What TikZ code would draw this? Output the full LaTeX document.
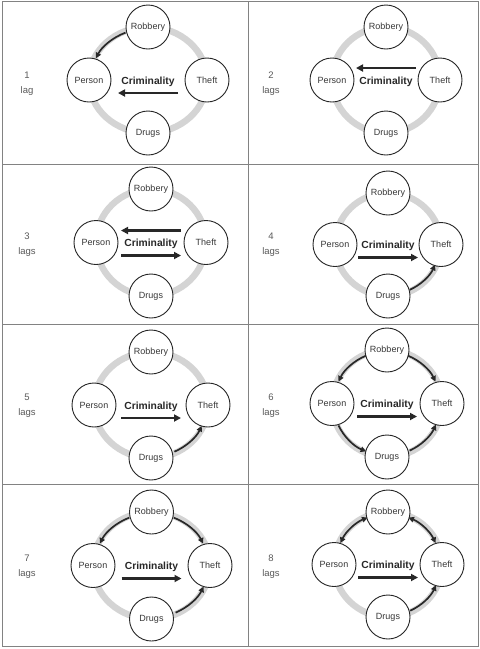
\documentclass[tikz,border=0pt]{standalone}
\usepackage{fontspec}
\setmainfont{Liberation Sans}
\usetikzlibrary{arrows.meta}
\definecolor{ringgray}{RGB}{212,212,212}
\definecolor{framegray}{RGB}{130,130,130}
\definecolor{txt}{RGB}{55,55,55}
\definecolor{lagtxt}{RGB}{90,90,90}
\definecolor{arr}{RGB}{40,40,40}
\tikzset{
  ring/.style={draw=ringgray, line width=6.5pt},
  crime/.style={circle, draw=black!85, line width=0.9pt, fill=white, minimum size=44pt, inner sep=0pt, font=\fontsize{9}{10}\selectfont, text=txt},
  crimlabel/.style={font=\bfseries\fontsize{10.3}{12}\selectfont, text=arr, inner sep=0pt},
  laglabel/.style={align=center, font=\fontsize{9.5}{15}\selectfont, text=lagtxt, inner sep=0pt},
  bigarrow/.style={draw=arr, line width=2.4pt, -{Triangle[length=7pt,width=7pt]}},
  curvearrow/.style={draw=arr, line width=1.7pt, -{Triangle[length=5.5pt,width=5.5pt]}},
  dcurvearrow/.style={draw=arr, line width=1.7pt, {Triangle[length=5.5pt,width=5.5pt]}-{Triangle[length=5.5pt,width=5.5pt]}},
  framerule/.style={draw=framegray, line width=1pt},
}
% #1 name, #2 start angle, #3 end angle, #4 style
\newcommand\crimearc[4]{%
  \coordinate (#1s) at ({\ax*cos(#2)},{\ay*sin(#2)});
  \draw[#4] (#1s) arc[start angle=#2, end angle=#3, x radius=\ax, y radius=\ay];}
% #1 cx, #2 cy, #3 rx, #4 ry, #5 prefix, #6 label, #7 lx, #8 ly, #9 arrows
\newcommand\lagpanel[9]{%
  \node[laglabel] (#5lag) at (#7,-#8) {#6};
  \begin{scope}[shift={(#1,-#2)}]
    \pgfmathsetmacro\ax{#3-1.5}
    \pgfmathsetmacro\ay{#4-1.5}
    \draw[ring] (0,0) ellipse[x radius=#3, y radius=#4];
    \node[crime] (#5rob) at (0,#4) {Robbery};
    \node[crime] (#5per) at (-#3,0) {Person};
    \node[crime] (#5the) at (#3,0) {Theft};
    \node[crime] (#5dru) at (0,-#4) {Drugs};
    \node[crimlabel] (#5crim) at (0,-1.5) {Criminality};
    \coordinate (#5L) at (-30,-13);
    \coordinate (#5R) at (30,-13);
    \coordinate (#5TL) at (-30,12);
    \coordinate (#5TR) at (30,12);
    #9
  \end{scope}}
\begin{document}
\begin{tikzpicture}[x=1pt,y=1pt]
\useasboundingbox (0,0) rectangle (480,-649);
\fill[white] (0,0) rectangle (480,-649);
\draw[framerule] (2,-1.5) rectangle (478,-646);
\draw[framerule] (248,-1.5) -- (248,-646);
\draw[framerule] (2,-164) -- (478,-164);
\draw[framerule] (2,-324) -- (478,-324);
\draw[framerule] (2,-484.5) -- (478,-484.5);

\lagpanel{148}{80}{59}{53}{a}{1\\lag}{27}{83.5}{%
  \draw[bigarrow] (aR) -- (aL);
  \crimearc{arp}{113}{155}{curvearrow}}

\lagpanel{386}{80}{54}{53}{b}{2\\lags}{271}{83.5}{%
  \draw[bigarrow] (bTR) -- (bTL);}

\lagpanel{151}{242.5}{55}{53.5}{c}{3\\lags}{27}{244.5}{%
  \draw[bigarrow] (cTR) -- (cTL);
  \draw[bigarrow] (cL) -- (cR);}

\lagpanel{388}{244.5}{53}{51.5}{d}{4\\lags}{271}{244.5}{%
  \draw[bigarrow] (dL) -- (dR);
  \crimearc{ddt}{295}{336}{curvearrow}}

\lagpanel{151}{405}{57}{53}{e}{5\\lags}{27}{405.5}{%
  \draw[bigarrow] (eL) -- (eR);
  \crimearc{edt}{295}{336}{curvearrow}}

\lagpanel{387}{403.5}{55}{53.5}{f}{6\\lags}{271}{405.5}{%
  \draw[bigarrow] (fL) -- (fR);
  \crimearc{frp}{113}{155}{curvearrow}
  \crimearc{frt}{67}{25}{curvearrow}
  \crimearc{fpd}{205}{247}{curvearrow}
  \crimearc{fdt}{295}{336}{curvearrow}}

\lagpanel{151.5}{565.5}{58.5}{53.5}{g}{7\\lags}{27}{567}{%
  \draw[bigarrow] (gL) -- (gR);
  \crimearc{grp}{113}{155}{curvearrow}
  \crimearc{grt}{67}{25}{curvearrow}
  \crimearc{gdt}{295}{336}{curvearrow}}

\lagpanel{388}{564.5}{54}{52.5}{h}{8\\lags}{271}{567}{%
  \draw[bigarrow] (hL) -- (hR);
  \crimearc{hrp}{113}{155}{dcurvearrow}
  \crimearc{hrt}{67}{25}{dcurvearrow}
  \crimearc{hdt}{295}{336}{curvearrow}}
\end{tikzpicture}
\end{document}
